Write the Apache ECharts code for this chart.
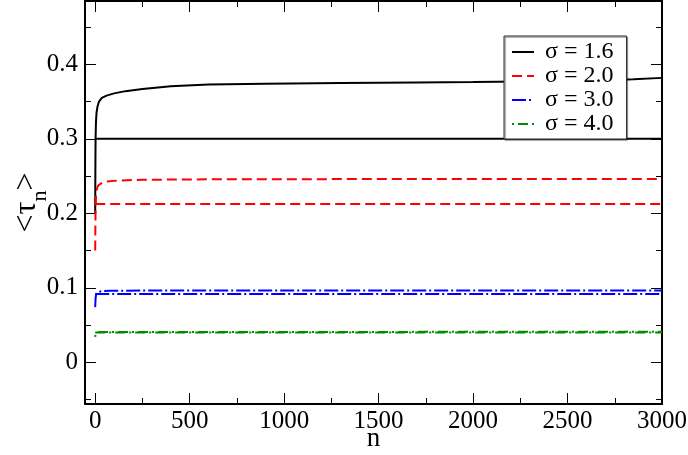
<!DOCTYPE html>
<html>
<head>
<meta charset="utf-8">
<script src="https://cdn.jsdelivr.net/npm/echarts@6/dist/echarts.min.js"></script>
<style>html,body{margin:0;padding:0;background:#fff}#c{width:688px;height:455px}</style>
</head>
<body>
<div id="c"></div>
<script>
// ---- data ----
var seriesNames = ['σ = 1.6', 'σ = 2.0', 'σ = 3.0', 'σ = 4.0'];
var xMajorTicks = [0, 500, 1000, 1500, 2000, 2500, 3000];
var xMinorTicks = [250, 750, 1250, 1750, 2250, 2750];
var yMajorTicks = [0, 0.1, 0.2, 0.3, 0.4];
var yMinorTicks = [-0.05, 0.05, 0.15, 0.25, 0.35, 0.45];

var black1N = [0, 1, 2, 4, 7, 12, 20, 35, 60, 100, 160, 250, 400, 600, 900, 1300, 1700, 2000, 2400, 2700, 2850, 3000];
var black1V = [0.200, 0.265, 0.300, 0.322, 0.335, 0.343, 0.350, 0.355, 0.358, 0.361, 0.364, 0.367, 0.3705, 0.3728, 0.374, 0.375, 0.3757, 0.3762, 0.3773, 0.3786, 0.3798, 0.3818];
var black2N = [0, 3000];
var black2V = [0.300, 0.300];

var red1N = [0, 1, 2, 4, 8, 15, 30, 60, 120, 250, 600, 1500, 3000];
var red1V = [0.150, 0.185, 0.205, 0.222, 0.232, 0.237, 0.240, 0.2425, 0.2440, 0.2450, 0.2456, 0.2460, 0.2462];
var red2N = [0, 3000];
var red2V = [0.2125, 0.2125];

var blue1N = [0, 2, 5, 12, 30, 80, 300, 3000];
var blue1V = [0.074, 0.086, 0.0915, 0.094, 0.0955, 0.0961, 0.0963, 0.0964];
var blue2N = [0, 3000];
var blue2V = [0.0915, 0.0915];

var green1N = [0, 2, 6, 20, 3000];
var green1V = [0.034, 0.038, 0.0400, 0.0406, 0.0410];
var green2N = [0, 3000];
var green2V = [0.0400, 0.0400];

function zip(ns, vs) { return ns.map(function (n, i) { return [n, vs[i]]; }); }

var FONT = "'Liberation Serif', 'Times New Roman', serif";
var chart = echarts.init(document.getElementById('c'), null, { renderer: 'canvas' });

function plain(v) { return String(v); }

function xAx(pos, ticks, len, showLine, labels, extra) {
  var o = {
    type: 'value', position: pos, min: -54, max: 3000, gridIndex: 0,
    axisLine: { show: showLine, onZero: false, lineStyle: { color: '#000', width: 2 } },
    axisTick: { show: true, inside: true, length: len, customValues: ticks, lineStyle: { color: '#000', width: 1 } },
    axisLabel: labels ? { show: true, customValues: ticks, formatter: plain, fontFamily: FONT, fontSize: 25, color: '#000', margin: 5 } : { show: false },
    splitLine: { show: false }
  };
  return Object.assign(o, extra || {});
}
function yAx(pos, ticks, len, showLine, labels, extra) {
  var o = {
    type: 'value', position: pos, min: -0.056, max: 0.485, gridIndex: 0,
    axisLine: { show: showLine, onZero: false, lineStyle: { color: '#000', width: 2 } },
    axisTick: { show: true, inside: true, length: len, customValues: ticks, lineStyle: { color: '#000', width: 1 } },
    axisLabel: labels ? { show: true, customValues: ticks, formatter: plain, fontFamily: FONT, fontSize: 25, color: '#000', margin: 7 } : { show: false },
    splitLine: { show: false }
  };
  return Object.assign(o, extra || {});
}

function mk(name, data, color, dash) {
  return {
    name: name, type: 'line', xAxisIndex: 0, yAxisIndex: 0,
    data: data, symbol: 'none', showSymbol: false, animation: false,
    lineStyle: { color: color, width: 2, type: dash },
    itemStyle: { color: color }
  };
}

var option = {
  animation: false,
  backgroundColor: '#fff',
  grid: { left: 85, right: 26, top: 1, bottom: 51, containLabel: false, outerBoundsMode: 'none' },
  xAxis: [
    xAx('bottom', xMajorTicks, 11, true, true, {
      name: 'n', nameLocation: 'middle', nameGap: 21, nameMoveOverlap: false,
      nameTextStyle: { fontFamily: FONT, fontSize: 27, color: '#000' }
    }),
    xAx('bottom', xMinorTicks, 6, false, false),
    xAx('top', xMajorTicks, 11, true, false),
    xAx('top', xMinorTicks, 6, false, false)
  ],
  yAxis: [
    yAx('left', yMajorTicks, 11, true, true, {
      name: '{m|<τ}{s|n}{m|>}', nameLocation: 'middle', nameGap: 38, nameMoveOverlap: false,
      nameTextStyle: {
        fontFamily: FONT, fontSize: 32, color: '#000',
        rich: {
          m: { fontFamily: FONT, fontSize: 32, lineHeight: 32, padding: [0, 0, 9, 0], color: '#000' },
          s: { fontFamily: FONT, fontSize: 22, lineHeight: 22, padding: [19, 0, 0, 0], color: '#000' }
        }
      }
    }),
    yAx('left', yMinorTicks, 6, false, false),
    yAx('right', yMajorTicks, 11, true, false),
    yAx('right', yMinorTicks, 6, false, false)
  ],
  legend: {
    data: seriesNames,
    left: 504, top: 36, orient: 'vertical',
    backgroundColor: '#fff', borderColor: '#333', borderWidth: 1,
    shadowColor: 'rgba(0,0,0,0.6)', shadowOffsetX: 1, shadowOffsetY: 1, shadowBlur: 1,
    padding: [4, 13, 3, 7], itemGap: 0, itemWidth: 22, itemHeight: 14, itemTextGap: 8,
    itemStyle: { opacity: 0, color: 'transparent', borderWidth: 0 },
    formatter: function (name) { return ' ' + name; },
    textStyle: { fontFamily: FONT, fontSize: 24, lineHeight: 24, color: '#000' }
  },
  series: [
    mk(seriesNames[0], zip(black1N, black1V), '#000000', 'solid'),
    mk(seriesNames[0], zip(black2N, black2V), '#000000', 'solid'),
    mk(seriesNames[1], zip(red1N, red1V), '#ff0000', [10, 5]),
    mk(seriesNames[1], zip(red2N, red2V), '#ff0000', [10, 5]),
    mk(seriesNames[2], zip(blue1N, blue1V), '#0000ff', [14, 3, 2, 3]),
    mk(seriesNames[2], zip(blue2N, blue2V), '#0000ff', [14, 3, 2, 3]),
    mk(seriesNames[3], zip(green1N, green1V), '#008b00', [2, 4, 10, 4]),
    mk(seriesNames[3], zip(green2N, green2V), '#008b00', [10, 4, 2, 4])
  ]
};
chart.setOption(option);
</script>
</body>
</html>
